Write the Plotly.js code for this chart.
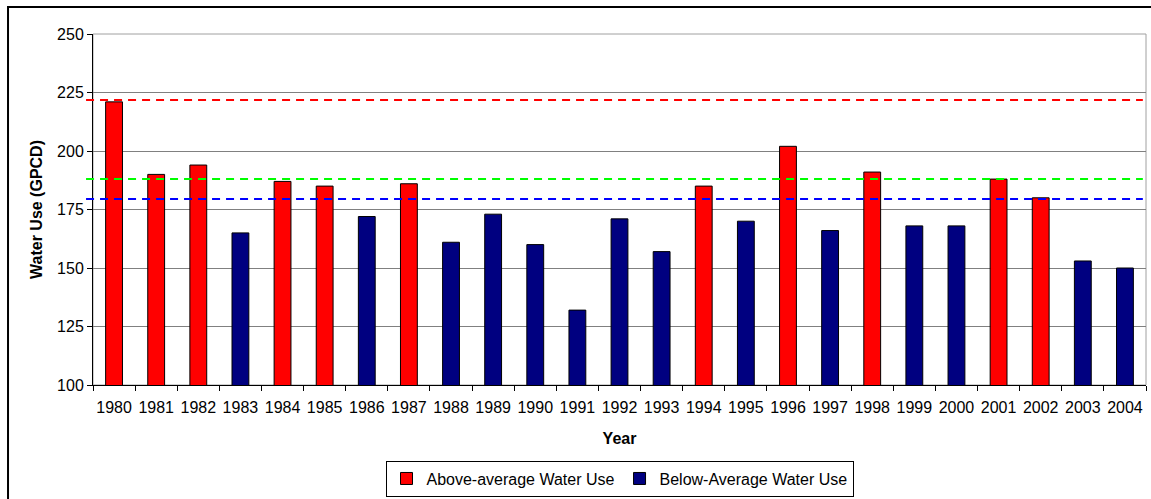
<!DOCTYPE html>
<html>
<head>
<meta charset="utf-8">
<script src="https://cdn.plot.ly/plotly-3.0.1.min.js"></script>
<style>
html,body{margin:0;padding:0;background:#fff;}
#chart{width:1151px;height:499px;}
</style>
</head>
<body>
<div id="chart"></div>
<script>
var years = ["1980","1981","1982","1983","1984","1985","1986","1987","1988","1989","1990","1991","1992","1993","1994","1995","1996","1997","1998","1999","2000","2001","2002","2003","2004"];
var waterUse = [221,190,194,165,187,185,172,186,161,173,160,132,171,157,185,170,202,166,191,168,168,188,180,153,150];
var aboveFlag = [1,1,1,0,1,1,0,1,0,0,0,0,0,0,1,0,1,0,1,0,0,1,1,0,0];
var refLineValues = [221.8, 188, 179.5];
var refLineColors = ["#FF0000", "#00FF00", "#0000FF"];
var seriesNames = ["Above-average Water Use", "Below-Average Water Use"];

var aboveVals = waterUse.map(function(v,i){return aboveFlag[i] ? v : null;});
var belowVals = waterUse.map(function(v,i){return aboveFlag[i] ? null : v;});

var font = "Liberation Sans, Arial, sans-serif";

var traces = [
  {type:"bar", x:years, y:aboveVals, name:seriesNames[0], width:0.4,
   marker:{color:"#FF0000", line:{color:"#000000", width:1}}},
  {type:"bar", x:years, y:belowVals, name:seriesNames[1], width:0.4,
   marker:{color:"#000080", line:{color:"#000000", width:1}}}
];

var shapes = refLineValues.map(function(v,i){
  return {type:"line", xref:"paper", yref:"y", x0:-0.0066, x1:0.997, y0:v, y1:v,
          line:{color:refLineColors[i], width:2, dash:"8px,6px"}, layer:"above"};
});
// plot area frame
shapes.push({type:"rect", xref:"paper", yref:"paper", x0:0, x1:1, y0:0, y1:1,
  line:{color:"#a0a0a0", width:1}, layer:"below"});
// outer chart frame
shapes.push({type:"rect", xref:"paper", yref:"paper", x0:-0.0807, x1:1.2, y0:-0.6, y1:1.0769,
  line:{color:"#000000", width:2}, layer:"below"});

var layout = {
  width:1151, height:499,
  margin:{l:93, r:5, t:34, b:114, autoexpand:false},
  paper_bgcolor:"#ffffff", plot_bgcolor:"#ffffff",
  font:{family:font, size:16, color:"#000000"},
  barmode:"overlay",
  showlegend:true,
  legend:{orientation:"h", x:0.5, xanchor:"center", yref:"container", y:0.077, yanchor:"top",
          bordercolor:"#000000", borderwidth:1, font:{family:font, size:16},
          itemwidth:30, tracegroupgap:0, bgcolor:"#ffffff"},
  xaxis:{type:"category", range:[-0.5,24.5], tickson:"boundaries", ticks:"outside", ticklen:5,
         tickangle:0, ticklabelstandoff:8,
         tickcolor:"#000000", showline:true, linecolor:"#000000", linewidth:1,
         showgrid:false, tickfont:{family:font, size:16}, automargin:false,
         title:{text:"<b>Year</b>", font:{family:font, size:16}, standoff:17}},
  yaxis:{range:[100,250], tick0:100, dtick:25, ticks:"outside", ticklen:5, tickcolor:"#000000",
         showline:true, linecolor:"#000000", linewidth:1, showgrid:true, gridcolor:"#808080",
         gridwidth:1, zeroline:false, tickfont:{family:font, size:16}, automargin:false,
         title:{text:"<b>Water Use (GPCD)</b>", font:{family:font, size:16}, standoff:10}},
  shapes:shapes
};

Plotly.newPlot("chart", traces, layout, {displayModeBar:false, staticPlot:true});
</script>
</body>
</html>
